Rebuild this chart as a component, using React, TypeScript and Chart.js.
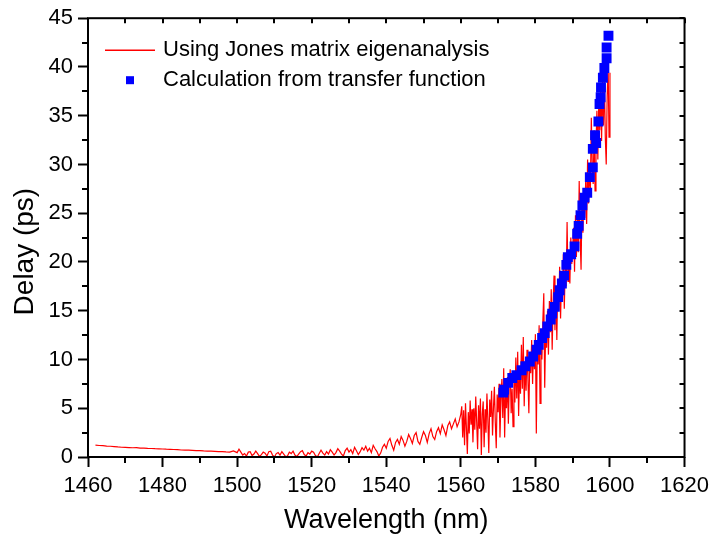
import React, { useEffect, useRef } from "react";
import { Chart, registerables } from "chart.js";

Chart.register(...registerables);

const FONT = '"Liberation Sans", Arial, Helvetica, sans-serif';

// ---- axis ticks ----
const xTickLabels = ["1460", "1480", "1500", "1520", "1540", "1560", "1580", "1600", "1620"];
const yTickLabels = ["0", "5", "10", "15", "20", "25", "30", "35", "40", "45"];
const xMinorTicks = [1470, 1490, 1510, 1530, 1550, 1570, 1590, 1610];
const yMinorTicks = [2.5, 7.5, 12.5, 17.5, 22.5, 27.5, 32.5, 37.5, 42.5];
const xTitle = "Wavelength (nm)";
const yTitle = "Delay (ps)";

// ---- red series: Jones matrix eigenanalysis (sampled segments of the wavelength sweep) ----
// segment A: 1462 .. 1499 nm, every 1 nm
const redA_start = 1462;
const redA_step = 1;
const redA = [1.22, 1.18, 1.16, 1.12, 1.1, 1.07, 1.03, 1.0, 0.99, 0.97, 0.95, 0.96, 0.92, 0.9, 0.88, 0.87, 0.85, 0.84, 0.82, 0.8,
  0.79, 0.77, 0.75, 0.72, 0.71, 0.7, 0.68, 0.66, 0.66, 0.62, 0.6, 0.61, 0.58, 0.55, 0.56, 0.52, 0.5, 0.62];
// segment B: 1500 .. 1540 nm, every 0.5 nm
const redB_start = 1500;
const redB_step = 0.5;
const redB = [
  0.45, 0.8, 0.5, 0.2, 0.35, 0.1, 0.5, 0.55, 0.15, 0.3,
  0.6, 0.35, 0.05, 0.25, 0.5, 0.4, 0.1, 0.55, 0.6, 0.2,
  0.0, 0.35, 0.45, 0.2, 0.55, 0.3, 0.05, 0.1, 0.5, 0.35,
  0.6, 0.2, 0.05, 0.3, 0.55, 0.65, 0.25, 0.1, 0.45, 0.3,
  0.6, 0.5, 0.15, 0.0, 0.35, 0.7, 0.4, 0.2, 0.55, 0.3,
  0.75, 0.5, 0.2, 0.45, 0.85, 0.6, 0.3, 0.1, 0.65, 0.9,
  0.5, 0.75, 0.35, 1.0, 0.65, 0.25, 0.55, 0.95, 0.7, 1.1,
  0.6, 0.9, 0.45, 1.2, 0.85, 0.55, 0.1, 0.4, 1.0, 1.3,
  0.9];
// segment C: 1540.5 .. 1560 nm, every 0.5 nm
const redC_start = 1540.5;
const redC_step = 0.5;
const redC = [
  1.6, 1.9, 1.2, 0.7, 1.5, 1.8, 1.3, 2.1, 1.7, 1.1,
  1.6, 2.3, 1.9, 1.4, 2.2, 2.5, 1.6, 1.3, 2.0, 2.6,
  2.2, 1.5, 2.4, 2.9, 2.1, 1.8, 2.6, 3.0, 2.4, 3.3,
  2.8, 2.2, 3.2, 3.6, 2.9, 3.4, 3.9, 3.1, 3.6, 4.4];
// segment D: 1560.25 .. 1600 nm, every 0.25 nm
const redD_start = 1560.25;
const redD_step = 0.25;
const redD = [
  5.2, 2.0, 4.8, 1.2, 5.5, 3.0, 0.3, 4.6, 2.4, 5.8, 3.3, 4.9, 1.5, 5.0, 2.8, 6.2, 3.6, 0.8, 5.3, 2.9,
  6.0, 0.2, 4.4, 5.7, 1.0, 4.9, 2.5, 6.5, 3.8, 0.4, 5.9, 4.1, 6.8, 2.2, 5.0, 7.2, 3.5, 0.9, 6.4, 4.6,
  7.5, 2.0, 5.8, 8.0, 4.0, 9.1, 2.0, 6.9, 5.0, 8.2, 3.4, 7.6, 9.0, 4.5, 7.0, 3.1, 8.4, 5.6, 10.2, 6.0,
  10.8, 4.2, 8.8, 6.5, 11.5, 7.0, 12.3, 5.2, 9.8, 6.8, 11.0, 8.0, 4.5, 10.5, 8.6, 12.0, 7.5, 11.2, 9.0, 12.6,
  2.4, 11.8, 9.5, 13.5, 5.5, 12.2, 10.0, 14.0, 16.8, 7.1, 13.0, 11.2, 15.0, 10.5, 16.0, 12.8, 17.2, 11.0, 15.8, 18.6,
  13.0, 17.5, 12.0, 18.0, 15.0, 19.5, 14.2, 18.2, 16.5, 20.8, 15.2, 19.5, 17.5, 24.1, 18.0, 21.0, 17.8, 22.5, 19.8, 21.5,
  23.5, 19.0, 24.8, 20.5, 25.0, 21.0, 28.3, 22.5, 19.2, 26.5, 23.0, 27.5, 24.5, 28.5, 23.9, 30.5, 26.0, 29.5, 27.5, 34.8,
  30.0, 28.0, 33.5, 27.3, 32.0, 35.5, 30.5, 36.5, 33.5, 37.5, 32.4, 38.5, 34.0, 39.0, 32.8, 30.0, 37.0, 40.2, 32.8, 39.4];

// ---- blue series: calculation from transfer function ----
const blueX = [1571.4, 1571.6, 1572.7, 1573.8, 1574.9, 1576.3, 1577.3, 1578.5, 1579.4, 1580.3, 1580.9, 1581.8, 1582.5, 1583.2,
  1584.1, 1584.5, 1585.2, 1586.1, 1586.5, 1587.1, 1587.7, 1588.3, 1588.7, 1589.6, 1590.5, 1591.2, 1591.6, 1592.1, 1592.6,
  1593.2, 1593.9, 1594.6, 1595.4, 1595.4, 1596.3, 1596.0, 1596.9, 1597.2, 1597.5, 1597.6, 1598.1, 1598.5, 1599.1, 1599.1, 1599.6];
const blueY = [6.6, 6.9, 7.6, 8.1, 8.4, 8.9, 9.3, 9.8, 10.3, 11.0, 11.5, 12.2, 12.7, 13.4,
  14.1, 14.7, 15.4, 16.4, 17.1, 17.8, 18.6, 19.7, 20.5, 20.8, 21.6, 22.9, 23.7, 24.8, 25.8,
  26.6, 27.1, 28.7, 29.7, 31.6, 32.2, 33.0, 34.4, 36.2, 36.9, 37.9, 38.9, 39.9, 40.9, 42.0, 43.2];

const seriesLabels = ["Using Jones matrix eigenanalysis", "Calculation from transfer function"];

function segment(values: number[], start: number, step: number) {
  return values.map((y, i) => ({ x: start + i * step, y }));
}

const redPoints = [
  ...segment(redA, redA_start, redA_step),
  ...segment(redB, redB_start, redB_step),
  ...segment(redC, redC_start, redC_step),
  ...segment(redD, redD_start, redD_step),
];
const bluePoints = blueX.map((x, i) => ({ x, y: blueY[i] }));

const framePlugin = {
  id: "frame",
  afterDatasetsDraw(chart: any) {
    const { ctx, chartArea: a, scales } = chart;
    const xs = scales.x;
    const ys = scales.y;
    ctx.save();
    ctx.strokeStyle = "#000";
    ctx.lineWidth = 2;
    ctx.strokeRect(a.left, a.top, a.right - a.left, a.bottom - a.top);
    ctx.beginPath();
    for (const v of xMinorTicks) {
      const p = Math.round(xs.getPixelForValue(v));
      ctx.moveTo(p, a.bottom);
      ctx.lineTo(p, a.bottom + 6);
    }
    for (const v of [...xMinorTicks, ...xTickLabels.map(Number)]) {
      const p = Math.round(xs.getPixelForValue(v));
      ctx.moveTo(p, a.top);
      ctx.lineTo(p, a.top + 5);
    }
    for (const v of yMinorTicks) {
      const p = Math.round(ys.getPixelForValue(v));
      ctx.moveTo(a.left, p);
      ctx.lineTo(a.left - 6, p);
    }
    for (const v of [...yMinorTicks, ...yTickLabels.map(Number)]) {
      const p = Math.round(ys.getPixelForValue(v));
      ctx.moveTo(a.right, p);
      ctx.lineTo(a.right - 5, p);
    }
    ctx.stroke();
    ctx.restore();
  },
  afterDraw(chart: any) {
    const { ctx, chartArea: a } = chart;
    const ds = chart.data.datasets;
    ctx.save();
    ctx.fillStyle = "#000";
    ctx.font = `28px ${FONT}`;
    ctx.textAlign = "center";
    ctx.textBaseline = "middle";
    ctx.translate(a.left - 63, (a.top + a.bottom) / 2 + 14);
    ctx.rotate(-Math.PI / 2);
    ctx.fillText(yTitle, 0, 0);
    ctx.restore();

    ctx.save();
    const x0 = a.left + 17;
    const row1 = a.top + 32;
    const row2 = a.top + 62;
    const textX = a.left + 75;
    ctx.strokeStyle = ds[0].borderColor;
    ctx.lineWidth = 1.5;
    ctx.beginPath();
    ctx.moveTo(x0, row1);
    ctx.lineTo(x0 + 50, row1);
    ctx.stroke();
    ctx.fillStyle = ds[1].backgroundColor;
    ctx.fillRect(x0 + 21, row2 - 4, 8, 8);
    ctx.fillStyle = "#000";
    ctx.font = `22px ${FONT}`;
    ctx.textBaseline = "middle";
    ctx.textAlign = "left";
    ctx.fillText(ds[0].label, textX, row1);
    ctx.fillText(ds[1].label, textX, row2);
    ctx.restore();
  },
};

export default function App() {
  const ref = useRef<HTMLCanvasElement | null>(null);
  useEffect(() => {
    if (!ref.current) return;
    const chart = new Chart(ref.current, {
      type: "scatter",
      data: {
        datasets: [
          {
            label: seriesLabels[0],
            data: redPoints,
            showLine: true,
            borderColor: "#ff0000",
            backgroundColor: "#ff0000",
            borderWidth: 1.2,
            pointRadius: 0,
            order: 2,
          },
          {
            label: seriesLabels[1],
            data: bluePoints,
            showLine: false,
            pointStyle: "rect",
            pointRadius: 7,
            borderWidth: 0,
            borderColor: "#0000ff",
            backgroundColor: "#0000ff",
            order: 1,
          },
        ],
      },
      options: {
        animation: false,
        responsive: false,
        devicePixelRatio: 1,
        layout: { padding: { top: 15, right: 28, left: 0, bottom: 0 } },
        plugins: { legend: { display: false }, tooltip: { enabled: false } },
        scales: {
          x: {
            type: "linear",
            min: 1460,
            max: 1620,
            afterFit: (s: any) => { s.height = 84; },
            ticks: {
              stepSize: 20,
              color: "#000",
              font: { family: FONT, size: 22 },
              padding: 6,
              maxRotation: 0,
              autoSkip: false,
              callback: (v: any, i: number) => xTickLabels[i] ?? String(v),
            },
            grid: { display: true, drawOnChartArea: false, drawTicks: true, tickLength: 10, tickWidth: 2, tickColor: "#000", color: "#000" },
            border: { display: false },
            title: { display: true, text: xTitle, color: "#000", font: { family: FONT, size: 27 }, padding: { top: 0, bottom: 4 } },
          },
          y: {
            type: "linear",
            min: 0,
            max: 45,
            afterFit: (s: any) => { s.width = 88; },
            ticks: {
              stepSize: 5,
              color: "#000",
              font: { family: FONT, size: 22 },
              padding: 5,
              autoSkip: false,
              callback: (v: any, i: number) => yTickLabels[i] ?? String(v),
            },
            grid: { display: true, drawOnChartArea: false, drawTicks: true, tickLength: 10, tickWidth: 2, tickColor: "#000", color: "#000" },
            border: { display: false },
            title: { display: false, text: yTitle },
          },
        },
      },
      plugins: [framePlugin],
    } as any);
    return () => chart.destroy();
  }, []);
  return (
    <div style={{ position: "fixed", left: 0, top: 0, width: 715, height: 541, background: "#fff" }}>
      <canvas ref={ref} width={715} height={541} style={{ display: "block" }} />
    </div>
  );
}
